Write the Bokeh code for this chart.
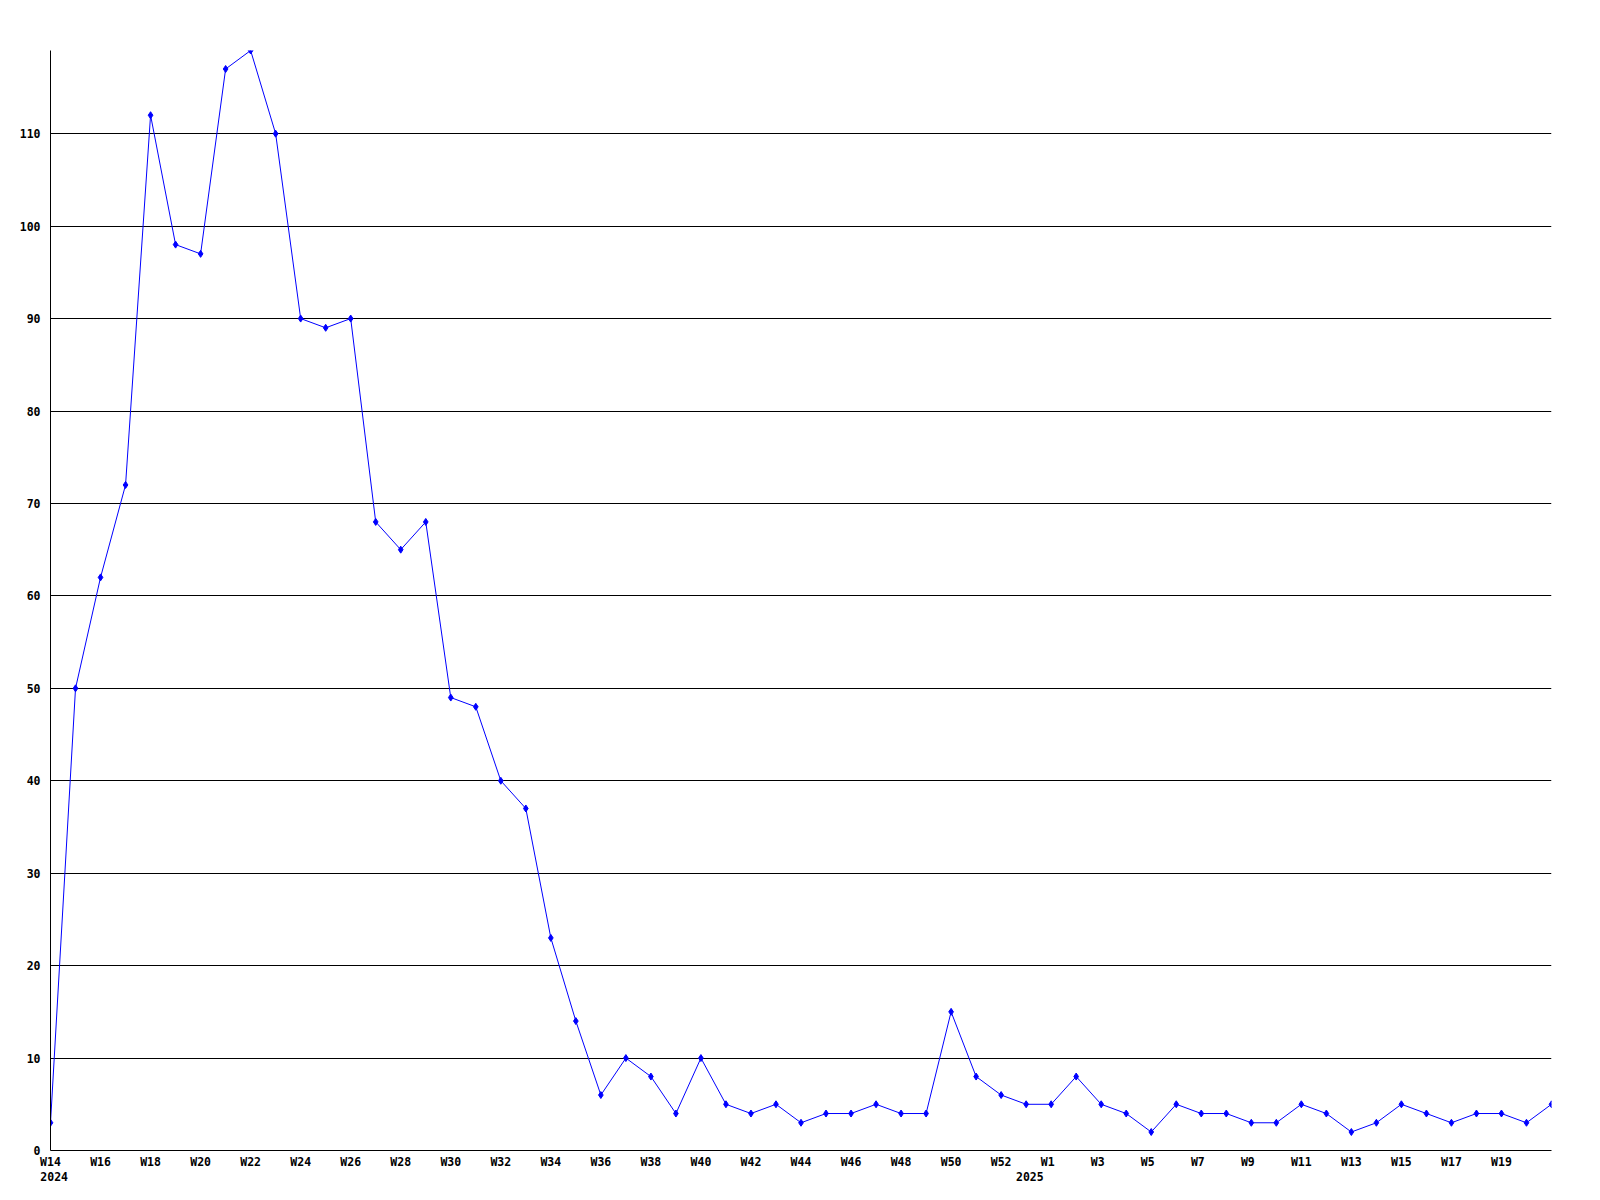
from bokeh.plotting import figure
from bokeh.models import FixedTicker, Range1d, ColumnDataSource, LinearAxis
from bokeh.embed import file_html
from bokeh.resources import INLINE

# Weekly labels: 2024 W14..W53, then 2025 W1..W21
week_labels = ["W%d" % n for n in range(14, 54)] + ["W%d" % n for n in range(1, 22)]
counts = [3, 50, 62, 72, 112, 98, 97, 117, 119, 110,
          90, 89, 90, 68, 65, 68, 49, 48, 40, 37,
          23, 14, 6, 10, 8, 4, 10, 5, 4, 5,
          3, 4, 4, 5, 4, 4, 15, 8, 6, 5,
          5, 8, 5, 4, 2, 5, 4, 4, 3, 3,
          5, 4, 2, 3, 5, 4, 3, 4, 4, 3,
          5]
year_labels = ["2024", "2025"]
year_start_index = [0, 39]
y_ticks = [0, 10, 20, 30, 40, 50, 60, 70, 80, 90, 100, 110]

x = list(range(len(counts)))
src = ColumnDataSource(data=dict(x=x, y=counts))

FONT = "DejaVu Sans Mono"
FSIZE = "11.5px"
W, H = 1584, 1184
FL, FT, FR, FB = 50, 50, 1551, 1150   # frame edges in the picture
p = figure(width=W, height=H, output_backend="svg", toolbar_location=None,
           x_range=Range1d(0, len(counts) - 1), y_range=Range1d(0, max(counts)),
           min_border_left=FL, min_border_right=W - FR,
           min_border_top=FT, min_border_bottom=H - FB)
p.outline_line_color = None
p.background_fill_color = "white"
p.border_fill_color = "white"

p.xgrid.visible = False
p.ygrid.grid_line_color = "black"
p.ygrid.grid_line_width = 1
p.ygrid.ticker = FixedTicker(ticks=y_ticks)

# y axis
p.yaxis.ticker = FixedTicker(ticks=y_ticks)
p.yaxis.major_tick_line_color = None
p.yaxis.minor_tick_line_color = None
p.yaxis.major_tick_out = 0
p.yaxis.major_tick_in = 0
p.yaxis.axis_line_color = "black"
p.yaxis.major_label_standoff = 10
p.yaxis.major_label_text_font = FONT
p.yaxis.major_label_text_font_style = "bold"
p.yaxis.major_label_text_font_size = FSIZE
p.yaxis.major_label_text_color = "black"

# x axis: every other week, last (edge) week unlabeled
x_tick_idx = [i for i in x[:-1] if i % 2 == 0]
p.xaxis.ticker = FixedTicker(ticks=x_tick_idx)
# pad to 3 monospace cells so labels share a common left edge
p.xaxis.major_label_overrides = {i: week_labels[i].ljust(3, "\u00a0") for i in x_tick_idx}
p.xaxis.major_tick_line_color = None
p.xaxis.minor_tick_line_color = None
p.xaxis.major_tick_out = 0
p.xaxis.major_tick_in = 0
p.xaxis.axis_line_color = "black"
p.xaxis.major_label_standoff = 4
p.xaxis.major_label_text_font = FONT
p.xaxis.major_label_text_font_style = "bold"
p.xaxis.major_label_text_font_size = FSIZE
p.xaxis.major_label_text_color = "black"

# year row: shifted so the 4-char year shares the week label's left edge
shift = 3.7 / ((FR - FL) / (len(counts) - 1))
p.extra_x_ranges = {"yr": Range1d(-shift, len(counts) - 1 - shift)}
yax = LinearAxis(x_range_name="yr", ticker=FixedTicker(ticks=year_start_index),
                 major_label_overrides={i: t for i, t in zip(year_start_index, year_labels)},
                 axis_line_color=None, major_tick_line_color=None,
                 minor_tick_line_color=None, major_tick_out=0, major_tick_in=0,
                 major_label_standoff=0, major_label_text_font=FONT,
                 major_label_text_font_style="bold", major_label_text_font_size=FSIZE,
                 major_label_text_color="black")
p.add_layout(yax, "below")

p.line("x", "y", source=src, line_color="#0000ff", line_width=1)
p.scatter("x", "y", source=src, marker="diamond", size=7,
          fill_color="#0000ff", line_color="#0000ff")

open("out.html", "w").write(file_html(p, INLINE))
